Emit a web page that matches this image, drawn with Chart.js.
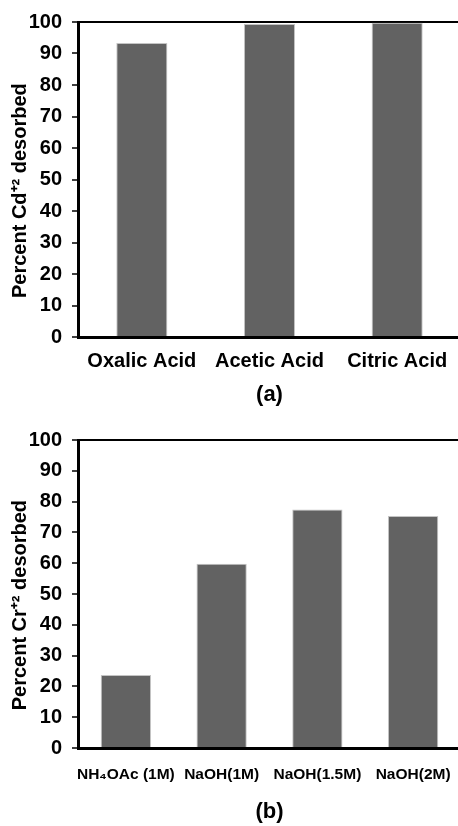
<!DOCTYPE html>
<html>
<head>
<meta charset="utf-8">
<script src="https://cdn.jsdelivr.net/npm/chart.js@4"></script>
<style>
  html, body { margin: 0; padding: 0; background: #fff; overflow: hidden; }
  .wrap { position: absolute; left: 0; width: 461px; }
  #wrapA { top: 0; height: 412px; }
  #wrapB { top: 412px; height: 414px; }
</style>
</head>
<body>
<div class="wrap" id="wrapA"><canvas id="chartA"></canvas></div>
<div class="wrap" id="wrapB"><canvas id="chartB"></canvas></div>
<script>
// ── DATA ─────────────────────────────────────────────────────
const acidLabels   = ['Oxalic Acid', 'Acetic Acid', 'Citric Acid'];
const cdDesorbed   = [93.3, 99.4, 99.8];

const eluentLabels = ['NH\u2084OAc (1M)', 'NaOH(1M)', 'NaOH(1.5M)', 'NaOH(2M)'];
const crDesorbed   = [23.7, 59.8, 77.4, 75.3];

const Y_MIN  = 0;
const Y_MAX  = 100;
const Y_STEP = 10;

const BAR_FILL   = '#626262';
const BAR_EDGE   = '#c4c4c4';
const FONT       = "'Liberation Sans', Arial, sans-serif";

// ── one bar chart panel ──────────────────────────────────────
function makeBarChart(id, labels, data, o) {
  const ctx = document.getElementById(id).getContext('2d');
  return new Chart(ctx, {
    type: 'bar',
    data: {
      labels: labels,
      datasets: [{
        data: data,
        backgroundColor: BAR_FILL,
        borderColor: BAR_EDGE,
        borderWidth: 1,
        categoryPercentage: 1,
        barPercentage: o.barPct,
      }]
    },
    options: {
      responsive: true,
      maintainAspectRatio: false,
      animation: false,
      layout: { padding: { top: o.padTop, right: 0, bottom: 0, left: 0 } },
      plugins: { legend: { display: false }, tooltip: { enabled: false } },
      scales: {
        x: {
          afterFit: s => { s.height = o.xHeight; },
          grid: { display: false },
          border: { display: true, color: '#000', width: 3 },
          ticks: {
            color: '#000', padding: o.xPad, maxRotation: 0, autoSkip: false,
            font: { family: FONT, size: o.xFont, weight: 'bold' }
          },
          title: {
            display: true, text: o.caption, color: '#000',
            padding: { top: 0, bottom: o.capPad },
            font: { family: FONT, size: 22, weight: 'bold' }
          }
        },
        y: {
          min: Y_MIN, max: Y_MAX,
          afterFit: s => { s.width = 78; },
          grid: {
            drawOnChartArea: true,
            color: c => c.tick && c.tick.value === Y_MAX ? '#000' : 'rgba(0,0,0,0)',
            lineWidth: 2,
            tickColor: '#000', tickLength: 6, tickWidth: 1.5
          },
          border: { display: true, color: '#000', width: 3 },
          ticks: {
            stepSize: Y_STEP, color: '#000', padding: 10,
            font: { family: FONT, size: 20, weight: 'bold' }
          },
          title: {
            display: true, text: o.yTitle, color: '#000',
            padding: { top: 8, bottom: 0 },
            font: { family: FONT, size: 20, weight: 'bold' }
          }
        }
      }
    }
  });
}

// ── (a) Cd desorption ────────────────────────────────────────
makeBarChart('chartA', acidLabels, cdDesorbed, {
  barPct: 0.4, padTop: 17, xHeight: 75, xPad: 4, xFont: 20, capPad: 4,
  caption: '(a)', yTitle: 'Percent Cd\u207A\u00B2 desorbed    '
});

// ── (b) Cr desorption ────────────────────────────────────────
makeBarChart('chartB', eluentLabels, crDesorbed, {
  barPct: 0.525, padTop: 28, xHeight: 78, xPad: 9, xFont: 15.5, capPad: 1,
  caption: '(b)', yTitle: 'Percent Cr\u207A\u00B2 desorbed    '
});
</script>
</body>
</html>
